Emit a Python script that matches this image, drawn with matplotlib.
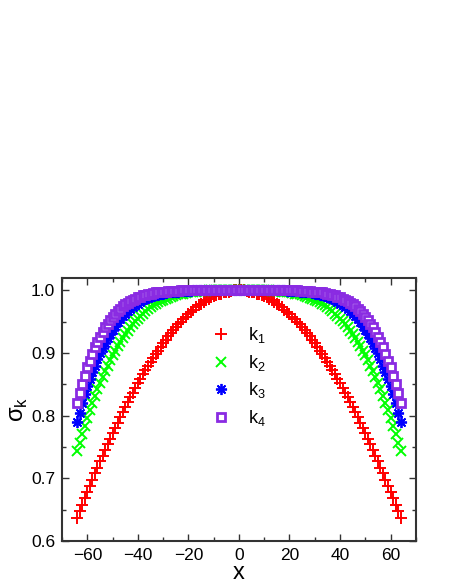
import matplotlib
matplotlib.use("Agg")
import matplotlib.pyplot as plt
from matplotlib.ticker import MultipleLocator

plt.rcParams['font.family'] = ['Liberation Sans', 'DejaVu Sans']

# sample positions
x = list(range(-64, 65))

# sigma_k, x = -64 .. 64
k1 = [0.637, 0.648, 0.658, 0.668, 0.678, 0.688, 0.698, 0.708, 0.717, 0.727, 0.736, 0.745, 0.755, 0.763, 0.772, 0.781,
      0.789, 0.798, 0.806, 0.814, 0.822, 0.830, 0.837, 0.845, 0.852, 0.859, 0.866, 0.873, 0.880, 0.886, 0.892, 0.898,
      0.904, 0.910, 0.916, 0.921, 0.927, 0.932, 0.937, 0.941, 0.946, 0.950, 0.954, 0.958, 0.962, 0.966, 0.969, 0.973,
      0.976, 0.979, 0.981, 0.984, 0.986, 0.989, 0.991, 0.992, 0.994, 0.995, 0.997, 0.998, 0.998, 0.999, 1.000, 1.000,
      1.000,
      1.000, 1.000, 0.999, 0.998, 0.998, 0.997, 0.995, 0.994, 0.992, 0.991, 0.989, 0.986, 0.984, 0.981, 0.979, 0.976,
      0.973, 0.969, 0.966, 0.962, 0.958, 0.954, 0.950, 0.946, 0.941, 0.937, 0.932, 0.927, 0.921, 0.916, 0.910, 0.904,
      0.898, 0.892, 0.886, 0.880, 0.873, 0.866, 0.859, 0.852, 0.845, 0.837, 0.830, 0.822, 0.814, 0.806, 0.798, 0.789,
      0.781, 0.772, 0.763, 0.755, 0.745, 0.736, 0.727, 0.717, 0.708, 0.698, 0.688, 0.678, 0.668, 0.658, 0.648, 0.637]

k2 = [0.743, 0.757, 0.771, 0.784, 0.797, 0.809, 0.821, 0.832, 0.842, 0.853, 0.862, 0.872, 0.880, 0.889, 0.897, 0.904,
      0.911, 0.918, 0.924, 0.930, 0.936, 0.941, 0.946, 0.951, 0.955, 0.959, 0.963, 0.967, 0.970, 0.973, 0.976, 0.978,
      0.981, 0.983, 0.985, 0.987, 0.988, 0.990, 0.991, 0.992, 0.994, 0.994, 0.995, 0.996, 0.997, 0.997, 0.998, 0.998,
      0.999, 0.999, 0.999, 0.999, 1.000, 1.000, 1.000, 1.000, 1.000, 1.000, 1.000, 1.000, 1.000, 1.000, 1.000, 1.000,
      1.000,
      1.000, 1.000, 1.000, 1.000, 1.000, 1.000, 1.000, 1.000, 1.000, 1.000, 1.000, 1.000, 0.999, 0.999, 0.999, 0.999,
      0.998, 0.998, 0.997, 0.997, 0.996, 0.995, 0.994, 0.994, 0.992, 0.991, 0.990, 0.988, 0.987, 0.985, 0.983, 0.981,
      0.978, 0.976, 0.973, 0.970, 0.967, 0.963, 0.959, 0.955, 0.951, 0.946, 0.941, 0.936, 0.930, 0.924, 0.918, 0.911,
      0.904, 0.897, 0.889, 0.880, 0.872, 0.862, 0.853, 0.842, 0.832, 0.821, 0.809, 0.797, 0.784, 0.771, 0.757, 0.743]

k3 = [0.790, 0.805, 0.820, 0.834, 0.847, 0.858, 0.870, 0.880, 0.890, 0.900, 0.908, 0.916, 0.924, 0.931, 0.937, 0.943,
      0.949, 0.954, 0.959, 0.963, 0.967, 0.970, 0.974, 0.977, 0.979, 0.982, 0.984, 0.986, 0.988, 0.989, 0.991, 0.992,
      0.993, 0.994, 0.995, 0.996, 0.997, 0.997, 0.998, 0.998, 0.998, 0.999, 0.999, 0.999, 0.999, 0.999, 1.000, 1.000,
      1.000, 1.000, 1.000, 1.000, 1.000, 1.000, 1.000, 1.000, 1.000, 1.000, 1.000, 1.000, 1.000, 1.000, 1.000, 1.000,
      1.000,
      1.000, 1.000, 1.000, 1.000, 1.000, 1.000, 1.000, 1.000, 1.000, 1.000, 1.000, 1.000, 1.000, 1.000, 1.000, 1.000,
      1.000, 1.000, 0.999, 0.999, 0.999, 0.999, 0.999, 0.998, 0.998, 0.998, 0.997, 0.997, 0.996, 0.995, 0.994, 0.993,
      0.992, 0.991, 0.989, 0.988, 0.986, 0.984, 0.982, 0.979, 0.977, 0.974, 0.970, 0.967, 0.963, 0.959, 0.954, 0.949,
      0.943, 0.937, 0.931, 0.924, 0.916, 0.908, 0.900, 0.890, 0.880, 0.870, 0.858, 0.847, 0.834, 0.820, 0.805, 0.790]

k4 = [0.820, 0.836, 0.850, 0.864, 0.877, 0.888, 0.899, 0.909, 0.918, 0.926, 0.934, 0.941, 0.947, 0.953, 0.958, 0.963,
      0.967, 0.971, 0.975, 0.978, 0.980, 0.983, 0.985, 0.987, 0.989, 0.990, 0.992, 0.993, 0.994, 0.995, 0.996, 0.997,
      0.997, 0.998, 0.998, 0.998, 0.999, 0.999, 0.999, 0.999, 0.999, 1.000, 1.000, 1.000, 1.000, 1.000, 1.000, 1.000,
      1.000, 1.000, 1.000, 1.000, 1.000, 1.000, 1.000, 1.000, 1.000, 1.000, 1.000, 1.000, 1.000, 1.000, 1.000, 1.000,
      1.000,
      1.000, 1.000, 1.000, 1.000, 1.000, 1.000, 1.000, 1.000, 1.000, 1.000, 1.000, 1.000, 1.000, 1.000, 1.000, 1.000,
      1.000, 1.000, 1.000, 1.000, 1.000, 1.000, 1.000, 0.999, 0.999, 0.999, 0.999, 0.999, 0.998, 0.998, 0.998, 0.997,
      0.997, 0.996, 0.995, 0.994, 0.993, 0.992, 0.990, 0.989, 0.987, 0.985, 0.983, 0.980, 0.978, 0.975, 0.971, 0.967,
      0.963, 0.958, 0.953, 0.947, 0.941, 0.934, 0.926, 0.918, 0.909, 0.899, 0.888, 0.877, 0.864, 0.850, 0.836, 0.820]

labels = ['k$_\\mathregular{1}$', 'k$_\\mathregular{2}$', 'k$_\\mathregular{3}$', 'k$_\\mathregular{4}$']

fig = plt.figure(figsize=(4.5, 5.82), dpi=100)
ax = fig.add_axes([0.138, 0.0705, 0.786, 0.452])

ax.plot(x, k1, ls='none', marker='+', ms=8, mew=1.4, color='#ff0000', label=labels[0])
ax.plot(x, k2, ls='none', marker='x', ms=7, mew=1.4, color='#00ff00', label=labels[1])
ax.plot(x, k3, ls='none', marker=(8, 2, 0), ms=8, mew=1.3, color='#0000ff', label=labels[2])
ax.plot(x, k4, ls='none', marker='s', ms=5.5, mew=2.0, color='#8a2be2', mfc='white', label=labels[3])

ax.set_xlim(-70, 70)
ax.set_ylim(0.6, 1.02)
ax.xaxis.set_major_locator(MultipleLocator(20))
ax.xaxis.set_minor_locator(MultipleLocator(10))
ax.yaxis.set_major_locator(MultipleLocator(0.1))
ax.yaxis.set_minor_locator(MultipleLocator(0.05))
ax.yaxis.set_major_formatter(plt.FormatStrFormatter('%.1f'))
ax.tick_params(which='both', direction='in', top=True, right=True, width=1, color='#333333')
ax.tick_params(which='major', length=5, labelsize=12.5, pad=5)
ax.tick_params(which='minor', length=3)
for s in ax.spines.values():
    s.set_linewidth(1.5)
    s.set_color('#333333')

ax.set_xlabel('x', fontsize=17, labelpad=-1)
ax.set_ylabel('σ$_\\mathregular{k}$', fontsize=17, labelpad=1)

ax.legend(loc='upper left', bbox_to_anchor=(0.418, 0.82), frameon=False, fontsize=13,
          handlelength=1.2, handletextpad=0.9, labelspacing=0.42, borderpad=0, borderaxespad=0)

plt.savefig('out.png', dpi=100)
